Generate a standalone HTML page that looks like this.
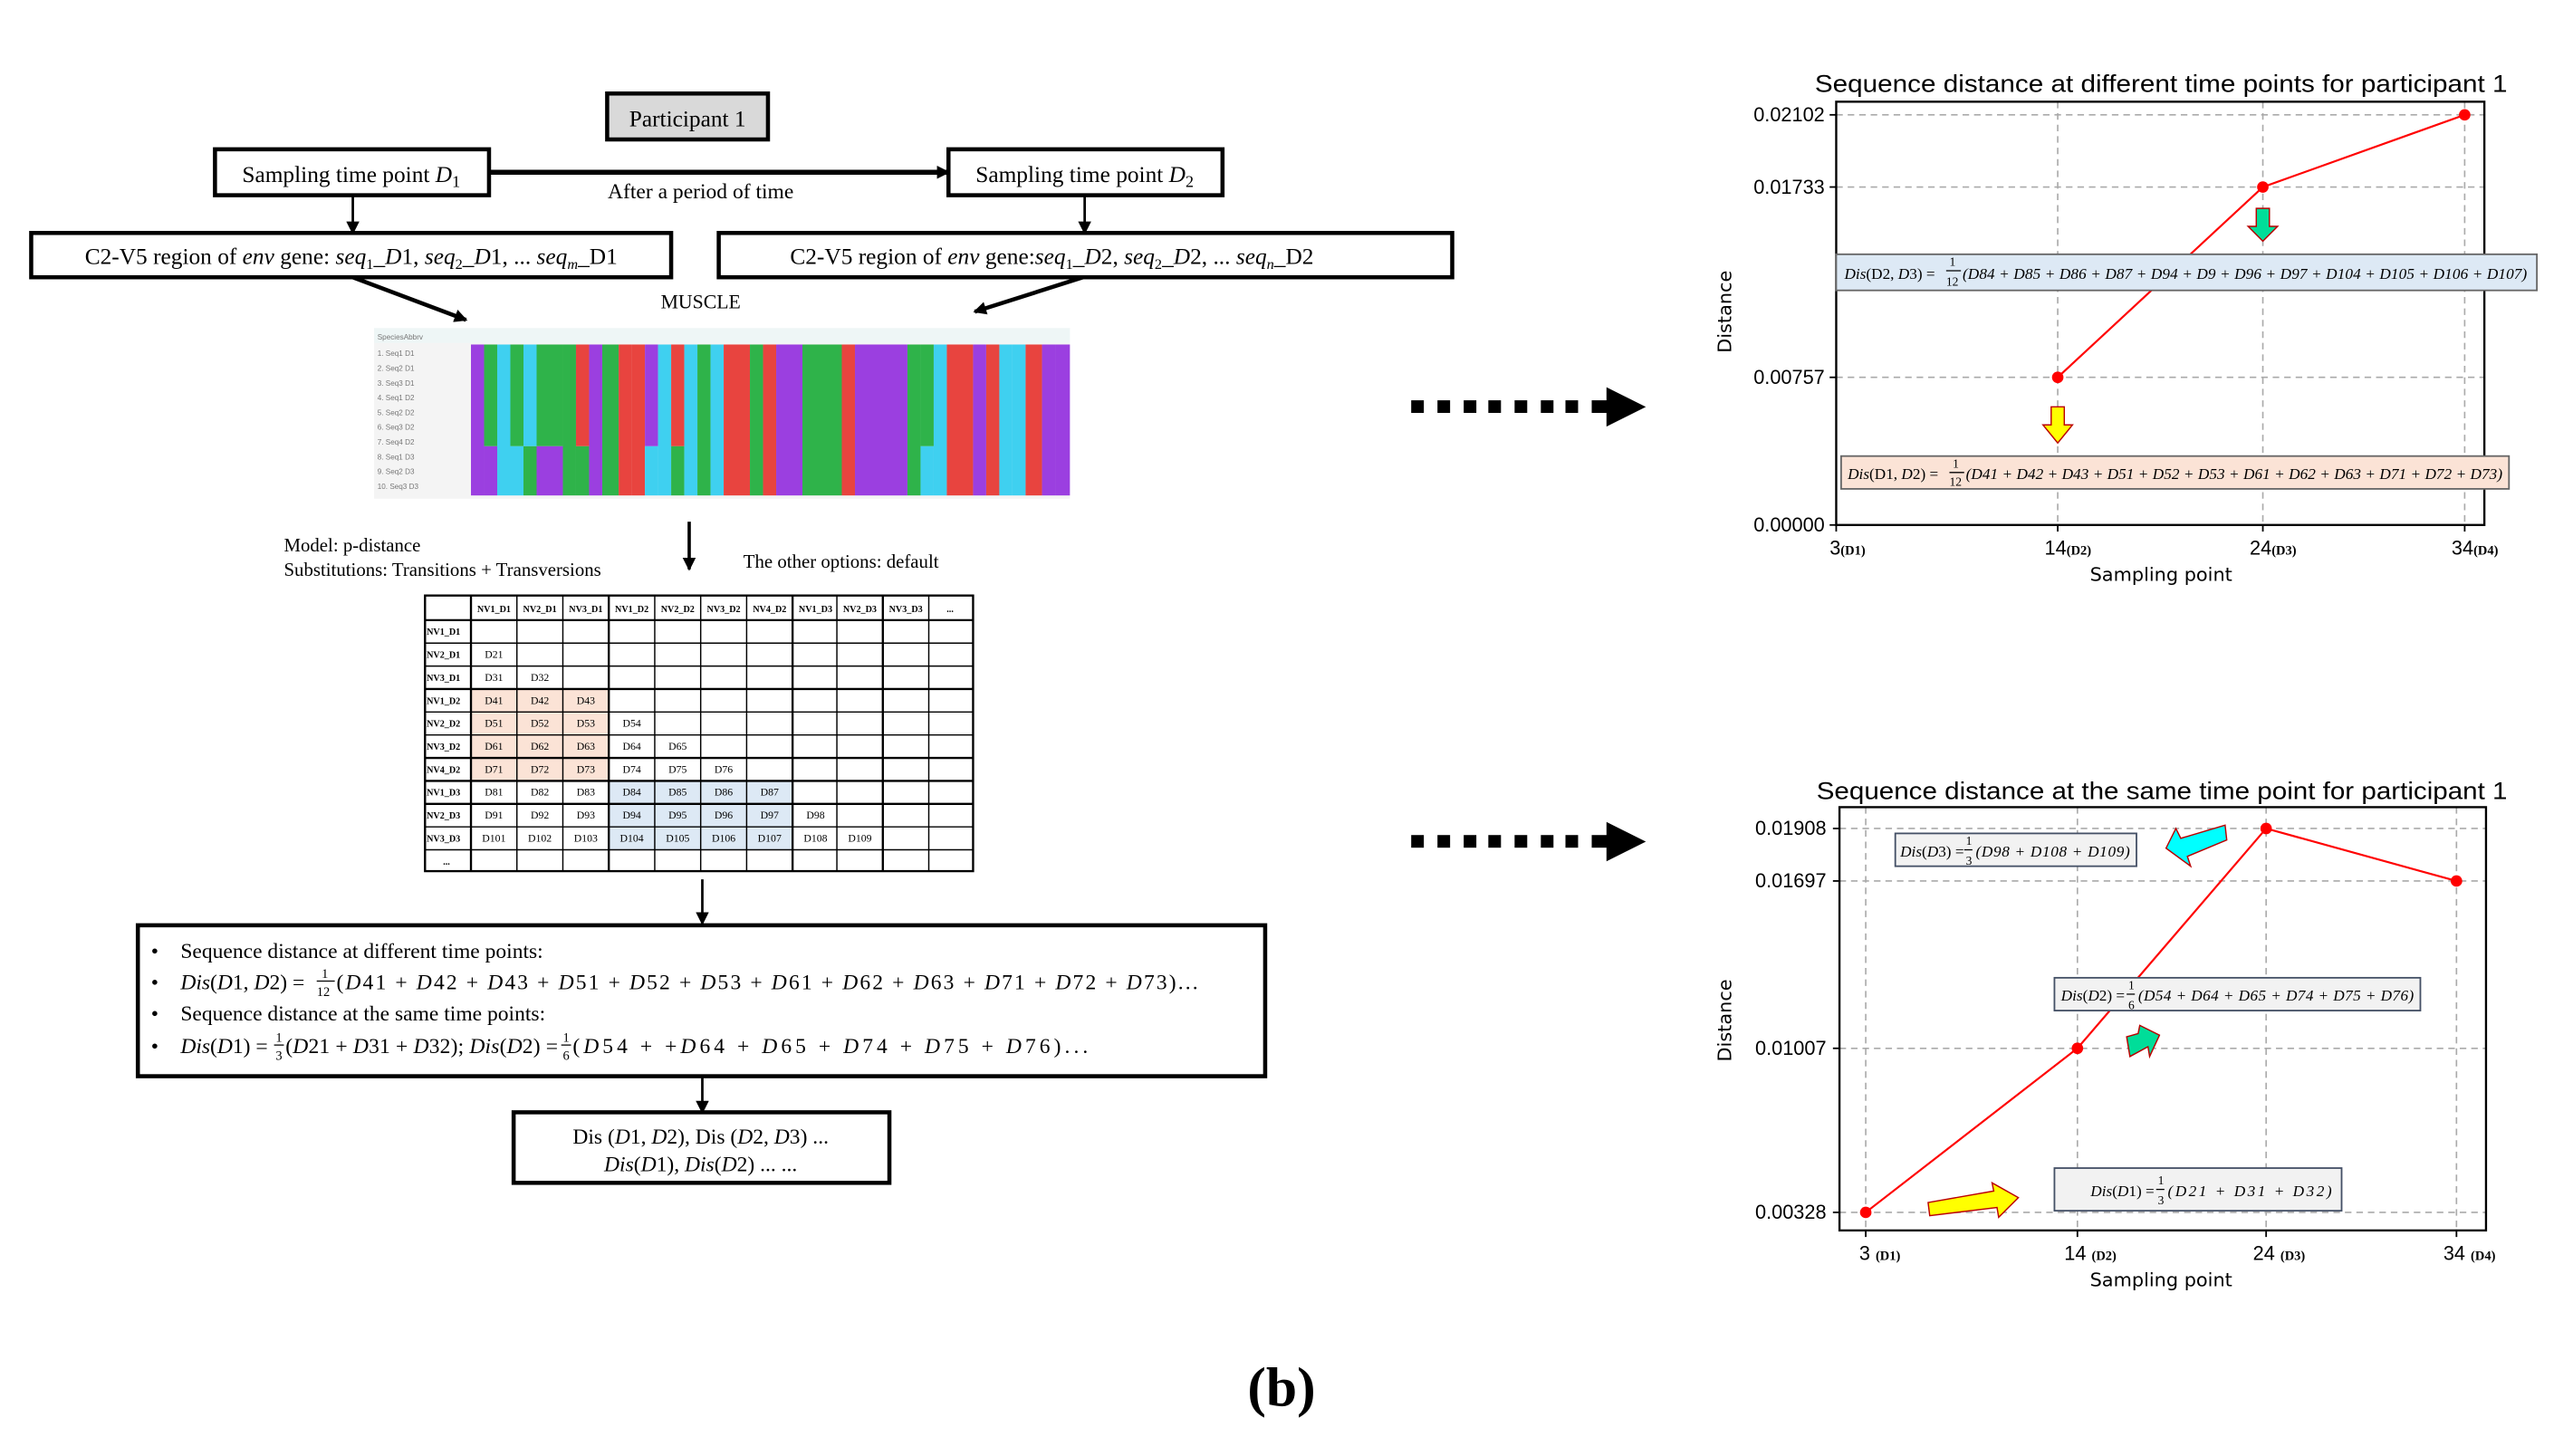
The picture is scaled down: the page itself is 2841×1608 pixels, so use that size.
<!DOCTYPE html>
<html><head><meta charset="utf-8"><style>
html,body{margin:0;padding:0;background:#fff;}
svg{display:block;}
.s{font-family:"Liberation Serif",serif;}
.a{font-family:"DejaVu Sans","Liberation Sans",sans-serif;}
.n{font-family:"Liberation Sans",sans-serif;}
</style></head><body>
<svg width="2841" height="1608" viewBox="0 0 1568 887.5" xmlns="http://www.w3.org/2000/svg">
<defs>
<marker id="ah" markerWidth="8" markerHeight="8" refX="7" refY="4" orient="auto" markerUnits="userSpaceOnUse"><path d="M0,0 L8,4 L0,8 z" fill="#000"/></marker>
</defs>
<rect width="1568" height="887.5" fill="#fff"/>

<!-- Left flowchart -->
<g class="s" fill="#000">
<rect x="370" y="57" width="98" height="28" fill="#d9d9d9" stroke="#000" stroke-width="2.5"/>
<text x="419" y="77" font-size="14" text-anchor="middle">Participant 1</text>

<rect x="131" y="91" width="167" height="28" fill="#fff" stroke="#000" stroke-width="2.5"/>
<text x="214" y="111" font-size="14" text-anchor="middle">Sampling time point <tspan font-style="italic">D</tspan><tspan font-size="10" dy="3">1</tspan></text>
<rect x="578" y="91" width="167" height="28" fill="#fff" stroke="#000" stroke-width="2.5"/>
<text x="661" y="111" font-size="14" text-anchor="middle">Sampling time point <tspan font-style="italic">D</tspan><tspan font-size="10" dy="3">2</tspan></text>
<line x1="298" y1="105" x2="578" y2="105" stroke="#000" stroke-width="3" marker-end="url(#ah)"/>
<text x="427" y="121" font-size="13" text-anchor="middle">After a period of time</text>
<line x1="215" y1="119" x2="215" y2="142" stroke="#000" stroke-width="1.5" marker-end="url(#ah)"/>
<line x1="661" y1="119" x2="661" y2="142" stroke="#000" stroke-width="1.5" marker-end="url(#ah)"/>

<rect x="19" y="142" width="390" height="27" fill="#fff" stroke="#000" stroke-width="2.5"/>
<text x="214" y="161" font-size="14" text-anchor="middle">C2-V5 region of <tspan font-style="italic">env</tspan> gene: <tspan font-style="italic">seq</tspan><tspan font-size="9" dy="3">1</tspan><tspan dy="-3">_<tspan font-style="italic">D</tspan>1, <tspan font-style="italic">seq</tspan></tspan><tspan font-size="9" dy="3">2</tspan><tspan dy="-3">_<tspan font-style="italic">D</tspan>1, ... <tspan font-style="italic">seq</tspan></tspan><tspan font-size="9" dy="3" font-style="italic">m</tspan><tspan dy="-3">_D1</tspan></text>
<rect x="438" y="142" width="447" height="27" fill="#fff" stroke="#000" stroke-width="2.5"/>
<text x="641" y="161" font-size="14" text-anchor="middle">C2-V5 region of <tspan font-style="italic">env</tspan> gene:<tspan font-style="italic">seq</tspan><tspan font-size="9" dy="3">1</tspan><tspan dy="-3">_<tspan font-style="italic">D</tspan>2, <tspan font-style="italic">seq</tspan></tspan><tspan font-size="9" dy="3">2</tspan><tspan dy="-3">_<tspan font-style="italic">D</tspan>2, ... <tspan font-style="italic">seq</tspan></tspan><tspan font-size="9" dy="3" font-style="italic">n</tspan><tspan dy="-3">_D2</tspan></text>
<line x1="215" y1="169" x2="284" y2="195" stroke="#000" stroke-width="2.5" marker-end="url(#ah)"/>
<line x1="660" y1="169" x2="594" y2="190" stroke="#000" stroke-width="2.5" marker-end="url(#ah)"/>
<text x="427" y="188" font-size="12" text-anchor="middle">MUSCLE</text>
</g>

<!-- Alignment image -->
<g>
<rect x="228" y="200" width="424" height="104" fill="#f4f4f4"/>
<rect x="228" y="200" width="424" height="9" fill="#eef6f6"/>
<g font-family="Liberation Sans" font-size="4.5" fill="#777">
<text x="230" y="207">SpeciesAbbrv</text>
<text x="230" y="217">1. Seq1 D1</text><text x="230" y="226">2. Seq2 D1</text><text x="230" y="235">3. Seq3 D1</text><text x="230" y="244">4. Seq1 D2</text><text x="230" y="253">5. Seq2 D2</text><text x="230" y="262">6. Seq3 D2</text><text x="230" y="271">7. Seq4 D2</text><text x="230" y="280">8. Seq1 D3</text><text x="230" y="289">9. Seq2 D3</text><text x="230" y="298">10. Seq3 D3</text>
</g>
<g>
<rect x="287" y="210" width="8" height="92" fill="#9b3fe0"/>
<rect x="295" y="210" width="8" height="62" fill="#2fb34a"/><rect x="295" y="272" width="8" height="30" fill="#9b3fe0"/>
<rect x="303" y="210" width="8" height="92" fill="#3fd0f0"/>
<rect x="311" y="210" width="8" height="62" fill="#2fb34a"/><rect x="311" y="272" width="8" height="30" fill="#3fd0f0"/>
<rect x="319" y="210" width="8" height="62" fill="#3fd0f0"/><rect x="319" y="272" width="8" height="30" fill="#2fb34a"/>
<rect x="327" y="210" width="16" height="62" fill="#2fb34a"/><rect x="327" y="272" width="16" height="30" fill="#9b3fe0"/>
<rect x="343" y="210" width="8" height="92" fill="#2fb34a"/>
<rect x="351" y="210" width="8" height="62" fill="#e8443f"/><rect x="351" y="272" width="8" height="30" fill="#2fb34a"/>
<rect x="359" y="210" width="8" height="92" fill="#9b3fe0"/>
<rect x="367" y="210" width="10" height="92" fill="#2fb34a"/>
<rect x="377" y="210" width="8" height="92" fill="#e8443f"/>
<rect x="385" y="210" width="8" height="92" fill="#e8443f"/>
<rect x="393" y="210" width="8" height="62" fill="#9b3fe0"/><rect x="393" y="272" width="8" height="30" fill="#3fd0f0"/>
<rect x="401" y="210" width="8" height="92" fill="#3fd0f0"/>
<rect x="409" y="210" width="8" height="62" fill="#e8443f"/><rect x="409" y="272" width="8" height="30" fill="#2fb34a"/>
<rect x="417" y="210" width="8" height="92" fill="#3fd0f0"/>
<rect x="425" y="210" width="8" height="92" fill="#2fb34a"/>
<rect x="433" y="210" width="8" height="92" fill="#3fd0f0"/>
<rect x="441" y="210" width="16" height="92" fill="#e8443f"/>
<rect x="457" y="210" width="8" height="92" fill="#2fb34a"/>
<rect x="465" y="210" width="8" height="92" fill="#e8443f"/>
<rect x="473" y="210" width="16" height="92" fill="#9b3fe0"/>
<rect x="489" y="210" width="24" height="92" fill="#2fb34a"/>
<rect x="513" y="210" width="8" height="92" fill="#e8443f"/>
<rect x="521" y="210" width="32" height="92" fill="#9b3fe0"/>
<rect x="553" y="210" width="8" height="92" fill="#2fb34a"/>
<rect x="561" y="210" width="8" height="62" fill="#2fb34a"/><rect x="561" y="272" width="8" height="30" fill="#3fd0f0"/>
<rect x="569" y="210" width="8" height="92" fill="#3fd0f0"/>
<rect x="577" y="210" width="16" height="92" fill="#e8443f"/>
<rect x="593" y="210" width="8" height="92" fill="#9b3fe0"/>
<rect x="601" y="210" width="8" height="92" fill="#e8443f"/>
<rect x="609" y="210" width="8" height="92" fill="#3fd0f0"/>
<rect x="617" y="210" width="8" height="92" fill="#3fd0f0"/>
<rect x="625" y="210" width="10" height="92" fill="#e8443f"/>
<rect x="635" y="210" width="8" height="92" fill="#9b3fe0"/>
<rect x="643" y="210" width="9" height="92" fill="#9b3fe0"/>
</g>
</g>

<g class="s" fill="#000">
<line x1="420" y1="318" x2="420" y2="347" stroke="#000" stroke-width="2" marker-end="url(#ah)"/>
<text x="173" y="336" font-size="11.5">Model: p-distance</text>
<text x="173" y="351" font-size="11.5">Substitutions: Transitions + Transversions</text>
<text x="453" y="346" font-size="11.5">The other options: default</text>
</g>

<!-- Table -->
<g class="s" font-size="6.5">
<rect x="287" y="420" width="84" height="56" fill="#fbe3d6"/>
<rect x="371" y="476" width="112" height="42" fill="#dde9f5"/>
<g stroke="#000" stroke-width="0.8" fill="none">
<rect x="259" y="363" width="334" height="168" stroke-width="1.3"/>
<line x1="287" y1="363" x2="287" y2="531" stroke-width="1.3"/>
<line x1="315" y1="363" x2="315" y2="531"/><line x1="343" y1="363" x2="343" y2="531"/><line x1="371" y1="363" x2="371" y2="531" stroke-width="1.3"/><line x1="399" y1="363" x2="399" y2="531"/><line x1="427" y1="363" x2="427" y2="531"/><line x1="455" y1="363" x2="455" y2="531"/><line x1="483" y1="363" x2="483" y2="531" stroke-width="1.3"/><line x1="510" y1="363" x2="510" y2="531"/><line x1="538" y1="363" x2="538" y2="531" stroke-width="1.3"/><line x1="566" y1="363" x2="566" y2="531"/>
<line x1="259" y1="378" x2="593" y2="378" stroke-width="1.3"/><line x1="259" y1="392" x2="593" y2="392"/><line x1="259" y1="406" x2="593" y2="406"/><line x1="259" y1="420" x2="593" y2="420" stroke-width="1.3"/><line x1="259" y1="434" x2="593" y2="434"/><line x1="259" y1="448" x2="593" y2="448"/><line x1="259" y1="462" x2="593" y2="462" stroke-width="1.3"/><line x1="259" y1="476" x2="593" y2="476" stroke-width="1.3"/><line x1="259" y1="490" x2="593" y2="490" stroke-width="1.3"/><line x1="259" y1="504" x2="593" y2="504"/><line x1="259" y1="518" x2="593" y2="518"/>
</g>
<g font-weight="bold" font-size="5.6" text-anchor="middle">
<text x="301" y="373">NV1_D1</text><text x="329" y="373">NV2_D1</text><text x="357" y="373">NV3_D1</text><text x="385" y="373">NV1_D2</text><text x="413" y="373">NV2_D2</text><text x="441" y="373">NV3_D2</text><text x="469" y="373">NV4_D2</text><text x="497" y="373">NV1_D3</text><text x="524" y="373">NV2_D3</text><text x="552" y="373">NV3_D3</text><text x="579" y="373">...</text>
</g>
<g font-weight="bold" font-size="5.6">
<text x="260" y="387">NV1_D1</text><text x="260" y="401">NV2_D1</text><text x="260" y="415">NV3_D1</text><text x="260" y="429">NV1_D2</text><text x="260" y="443">NV2_D2</text><text x="260" y="457">NV3_D2</text><text x="260" y="471">NV4_D2</text><text x="260" y="485">NV1_D3</text><text x="260" y="499">NV2_D3</text><text x="260" y="513">NV3_D3</text><text x="270" y="527">...</text>
</g>
<g text-anchor="middle">
<text x="301" y="401">D21</text>
<text x="301" y="415">D31</text><text x="329" y="415">D32</text>
<text x="301" y="429">D41</text><text x="329" y="429">D42</text><text x="357" y="429">D43</text>
<text x="301" y="443">D51</text><text x="329" y="443">D52</text><text x="357" y="443">D53</text><text x="385" y="443">D54</text>
<text x="301" y="457">D61</text><text x="329" y="457">D62</text><text x="357" y="457">D63</text><text x="385" y="457">D64</text><text x="413" y="457">D65</text>
<text x="301" y="471">D71</text><text x="329" y="471">D72</text><text x="357" y="471">D73</text><text x="385" y="471">D74</text><text x="413" y="471">D75</text><text x="441" y="471">D76</text>
<text x="301" y="485">D81</text><text x="329" y="485">D82</text><text x="357" y="485">D83</text><text x="385" y="485">D84</text><text x="413" y="485">D85</text><text x="441" y="485">D86</text><text x="469" y="485">D87</text>
<text x="301" y="499">D91</text><text x="329" y="499">D92</text><text x="357" y="499">D93</text><text x="385" y="499">D94</text><text x="413" y="499">D95</text><text x="441" y="499">D96</text><text x="469" y="499">D97</text><text x="497" y="499">D98</text>
<text x="301" y="513">D101</text><text x="329" y="513">D102</text><text x="357" y="513">D103</text><text x="385" y="513">D104</text><text x="413" y="513">D105</text><text x="441" y="513">D106</text><text x="469" y="513">D107</text><text x="497" y="513">D108</text><text x="524" y="513">D109</text>
</g>
</g>

<g class="s" fill="#000">
<line x1="428" y1="536" x2="428" y2="563" stroke="#000" stroke-width="1.5" marker-end="url(#ah)"/>
<rect x="84" y="564" width="687" height="92" fill="#fff" stroke="#000" stroke-width="2.5"/>
<g font-size="13">
<text x="92" y="584">•</text><text x="110" y="584">Sequence distance at different time points:</text>
<text x="92" y="603">•</text><text x="110" y="603"><tspan font-style="italic">Dis</tspan>(<tspan font-style="italic">D</tspan>1, <tspan font-style="italic">D</tspan>2) = </text>
<text x="196" y="596" font-size="8">1</text><line x1="193" y1="598" x2="204" y2="598" stroke="#000" stroke-width="0.7"/><text x="193" y="607" font-size="8">12</text>
<text x="205" y="603" textLength="525" lengthAdjust="spacing">(<tspan font-style="italic">D</tspan>41 + <tspan font-style="italic">D</tspan>42 + <tspan font-style="italic">D</tspan>43 + <tspan font-style="italic">D</tspan>51 + <tspan font-style="italic">D</tspan>52 + <tspan font-style="italic">D</tspan>53 + <tspan font-style="italic">D</tspan>61 + <tspan font-style="italic">D</tspan>62 + <tspan font-style="italic">D</tspan>63 + <tspan font-style="italic">D</tspan>71 + <tspan font-style="italic">D</tspan>72 + <tspan font-style="italic">D</tspan>73)...</text>
<text x="92" y="622">•</text><text x="110" y="622">Sequence distance at the same time points:</text>
<text x="92" y="642">•</text><text x="110" y="642"><tspan font-style="italic">Dis</tspan>(<tspan font-style="italic">D</tspan>1) = </text>
<text x="168" y="635" font-size="8">1</text><line x1="167" y1="637" x2="173" y2="637" stroke="#000" stroke-width="0.7"/><text x="168" y="646" font-size="8">3</text>
<text x="174" y="642" textLength="166" lengthAdjust="spacing">(<tspan font-style="italic">D</tspan>21 + <tspan font-style="italic">D</tspan>31 + <tspan font-style="italic">D</tspan>32); <tspan font-style="italic">Dis</tspan>(<tspan font-style="italic">D</tspan>2) = </text>
<text x="343" y="635" font-size="8">1</text><line x1="342" y1="637" x2="348" y2="637" stroke="#000" stroke-width="0.7"/><text x="343" y="646" font-size="8">6</text>
<text x="349" y="642" textLength="314" lengthAdjust="spacing">(<tspan font-style="italic">D</tspan>54 + +<tspan font-style="italic">D</tspan>64 + <tspan font-style="italic">D</tspan>65 + <tspan font-style="italic">D</tspan>74 + <tspan font-style="italic">D</tspan>75 + <tspan font-style="italic">D</tspan>76)...</text>
</g>
<line x1="428" y1="657" x2="428" y2="678" stroke="#000" stroke-width="1.5" marker-end="url(#ah)"/>
<rect x="313" y="678" width="229" height="43" fill="#fff" stroke="#000" stroke-width="2.5"/>
<text x="427" y="697" font-size="13" text-anchor="middle">Dis (<tspan font-style="italic">D</tspan>1, <tspan font-style="italic">D</tspan>2), Dis (<tspan font-style="italic">D</tspan>2, <tspan font-style="italic">D</tspan>3) ...</text>
<text x="427" y="714" font-size="13" text-anchor="middle"><tspan font-style="italic">Dis</tspan>(<tspan font-style="italic">D</tspan>1), <tspan font-style="italic">Dis</tspan>(<tspan font-style="italic">D</tspan>2) ... ...</text>
</g>

<!-- dotted arrows -->
<g fill="#000">
<rect x="860" y="244" width="7.7" height="7.7"/><rect x="876" y="244" width="7.7" height="7.7"/><rect x="892" y="244" width="7.7" height="7.7"/><rect x="907" y="244" width="7.7" height="7.7"/><rect x="923" y="244" width="7.7" height="7.7"/><rect x="939" y="244" width="7.7" height="7.7"/><rect x="954" y="244" width="7.7" height="7.7"/><rect x="970" y="244" width="10" height="7.7"/>
<path d="M979,236 L1003,248 L979,260 z"/>
<rect x="860" y="509" width="7.7" height="7.7"/><rect x="876" y="509" width="7.7" height="7.7"/><rect x="892" y="509" width="7.7" height="7.7"/><rect x="907" y="509" width="7.7" height="7.7"/><rect x="923" y="509" width="7.7" height="7.7"/><rect x="939" y="509" width="7.7" height="7.7"/><rect x="954" y="509" width="7.7" height="7.7"/><rect x="970" y="509" width="10" height="7.7"/>
<path d="M979,501 L1003,513 L979,525 z"/>
</g>

<!-- Chart 1 -->
<g>
<g stroke="#aaa" stroke-width="0.9" stroke-dasharray="4,3" fill="none">
<line x1="1119" y1="70" x2="1514" y2="70"/><line x1="1119" y1="114" x2="1514" y2="114"/><line x1="1119" y1="230" x2="1514" y2="230"/>
<line x1="1254" y1="62" x2="1254" y2="320"/><line x1="1379" y1="62" x2="1379" y2="320"/><line x1="1502" y1="62" x2="1502" y2="320"/>
</g>
<rect x="1119" y="62" width="395" height="258" fill="none" stroke="#000" stroke-width="1.3"/>
<g stroke="#000" stroke-width="1"><line x1="1115" y1="70" x2="1119" y2="70"/><line x1="1115" y1="114" x2="1119" y2="114"/><line x1="1115" y1="230" x2="1119" y2="230"/><line x1="1115" y1="320" x2="1119" y2="320"/>
<line x1="1119" y1="320" x2="1119" y2="324"/><line x1="1254" y1="320" x2="1254" y2="324"/><line x1="1379" y1="320" x2="1379" y2="324"/><line x1="1502" y1="320" x2="1502" y2="324"/></g>
<polyline points="1254,230 1379,114 1502,70" fill="none" stroke="#f00" stroke-width="1.2"/>
<circle cx="1254" cy="230" r="3.5" fill="#f00"/><circle cx="1379" cy="114" r="3.5" fill="#f00"/><circle cx="1502" cy="70" r="3.5" fill="#f00"/>
<text x="1106" y="56" class="n" font-size="15" textLength="422" lengthAdjust="spacingAndGlyphs">Sequence distance at different time points for participant 1</text>
<g class="n" font-size="12" text-anchor="end"><text x="1112" y="74">0.02102</text><text x="1112" y="118">0.01733</text><text x="1112" y="234">0.00757</text><text x="1112" y="324">0.00000</text></g>
<g class="n" font-size="12"><text x="1115" y="338">3<tspan class="s" font-size="8" font-weight="bold">(D1)</tspan></text><text x="1246" y="338">14<tspan class="s" font-size="8" font-weight="bold">(D2)</tspan></text><text x="1371" y="338">24<tspan class="s" font-size="8" font-weight="bold">(D3)</tspan></text><text x="1494" y="338">34<tspan class="s" font-size="8" font-weight="bold">(D4)</tspan></text></g>
<text x="1317" y="354" class="a" font-size="11.5" text-anchor="middle">Sampling point</text>
<text transform="translate(1055,190) rotate(-90)" class="a" font-size="11.5" text-anchor="middle">Distance</text>
<path d="M1375,127 L1383,127 L1383,138 L1388,138 L1379,147 L1370,138 L1375,138 z" fill="#00dd99" stroke="#b00" stroke-width="0.8"/>
<path d="M1250,248 L1258,248 L1258,259 L1263,259 L1254,270 L1245,259 L1250,259 z" fill="#ffff00" stroke="#b00" stroke-width="0.8"/>
<rect x="1119" y="155" width="427" height="22" fill="#dde9f5" stroke="#666" stroke-width="1"/>
<g class="s" font-size="9.5"><text x="1124" y="170"><tspan font-style="italic">Dis</tspan>(D2, <tspan font-style="italic">D</tspan>3) = </text>
<text x="1188" y="162" font-size="7.5">1</text><line x1="1186" y1="165" x2="1195" y2="165" stroke="#000" stroke-width="0.7"/><text x="1186" y="174" font-size="7.5">12</text>
<text x="1196" y="170" font-style="italic" textLength="344" lengthAdjust="spacing">(D84 + D85 + D86 + D87 + D94 + D9 + D96 + D97 + D104 + D105 + D106 + D107)</text></g>
<rect x="1122" y="278" width="407" height="20" fill="#fbe3d6" stroke="#666" stroke-width="1"/>
<g class="s" font-size="9.5"><text x="1126" y="292"><tspan font-style="italic">Dis</tspan>(D1, <tspan font-style="italic">D</tspan>2) = </text>
<text x="1190" y="285" font-size="7.5">1</text><line x1="1188" y1="288" x2="1197" y2="288" stroke="#000" stroke-width="0.7"/><text x="1188" y="296" font-size="7.5">12</text>
<text x="1198" y="292" font-style="italic" textLength="327" lengthAdjust="spacing">(D41 + D42 + D43 + D51 + D52 + D53 + D61 + D62 + D63 + D71 + D72 + D73)</text></g>
</g>

<!-- Chart 2 -->
<g>
<g stroke="#aaa" stroke-width="0.9" stroke-dasharray="4,3" fill="none">
<line x1="1121" y1="505" x2="1515" y2="505"/><line x1="1121" y1="537" x2="1515" y2="537"/><line x1="1121" y1="639" x2="1515" y2="639"/><line x1="1121" y1="739" x2="1515" y2="739"/>
<line x1="1137" y1="492" x2="1137" y2="750"/><line x1="1266" y1="492" x2="1266" y2="750"/><line x1="1381" y1="492" x2="1381" y2="750"/><line x1="1497" y1="492" x2="1497" y2="750"/>
</g>
<rect x="1121" y="492" width="394" height="258" fill="none" stroke="#000" stroke-width="1.3"/>
<g stroke="#000" stroke-width="1"><line x1="1117" y1="505" x2="1121" y2="505"/><line x1="1117" y1="537" x2="1121" y2="537"/><line x1="1117" y1="639" x2="1121" y2="639"/><line x1="1117" y1="739" x2="1121" y2="739"/>
<line x1="1137" y1="750" x2="1137" y2="754"/><line x1="1266" y1="750" x2="1266" y2="754"/><line x1="1381" y1="750" x2="1381" y2="754"/><line x1="1497" y1="750" x2="1497" y2="754"/></g>
<polyline points="1137,739 1266,639 1381,505 1497,537" fill="none" stroke="#f00" stroke-width="1.2"/>
<circle cx="1137" cy="739" r="3.5" fill="#f00"/><circle cx="1266" cy="639" r="3.5" fill="#f00"/><circle cx="1381" cy="505" r="3.5" fill="#f00"/><circle cx="1497" cy="537" r="3.5" fill="#f00"/>
<text x="1107" y="487" class="n" font-size="15" textLength="421" lengthAdjust="spacingAndGlyphs">Sequence distance at the same time point for participant 1</text>
<g class="n" font-size="12" text-anchor="end"><text x="1113" y="509">0.01908</text><text x="1113" y="541">0.01697</text><text x="1113" y="643">0.01007</text><text x="1113" y="743">0.00328</text></g>
<g class="n" font-size="12"><text x="1133" y="768">3 <tspan class="s" font-size="8" font-weight="bold">(D1)</tspan></text><text x="1258" y="768">14 <tspan class="s" font-size="8" font-weight="bold">(D2)</tspan></text><text x="1373" y="768">24 <tspan class="s" font-size="8" font-weight="bold">(D3)</tspan></text><text x="1489" y="768">34 <tspan class="s" font-size="8" font-weight="bold">(D4)</tspan></text></g>
<text x="1317" y="784" class="a" font-size="11.5" text-anchor="middle">Sampling point</text>
<text transform="translate(1055,622) rotate(-90)" class="a" font-size="11.5" text-anchor="middle">Distance</text>
<path d="M1356,503 L1357,512 L1333,522 L1335,528 L1320,517 L1326,505 L1329,511 z" fill="#00ffff" stroke="#b00" stroke-width="0.8"/>
<path d="M1298,644 L1296,632 L1303,630 L1304,625 L1316,631 L1310,644 L1309,638 z" fill="#00dd99" stroke="#b00" stroke-width="0.8"/>
<path d="M1176,741 L1175,733 L1215,726 L1214,721 L1230,730 L1218,742 L1217,736 z" fill="#ffff00" stroke="#b00" stroke-width="0.8"/>
<rect x="1155" y="508" width="147" height="20" fill="#f2f2f2" stroke="#445066" stroke-width="1"/>
<g class="s" font-size="9.5"><text x="1158" y="522"><tspan font-style="italic">Dis</tspan>(<tspan font-style="italic">D</tspan>3) = </text>
<text x="1198" y="515" font-size="7.5">1</text><line x1="1197" y1="518" x2="1202" y2="518" stroke="#000" stroke-width="0.7"/><text x="1198" y="527" font-size="7.5">3</text>
<text x="1204" y="522" font-style="italic" textLength="94" lengthAdjust="spacing">(D98 + D108 + D109)</text></g>
<rect x="1252" y="596" width="223" height="20" fill="#f2f2f2" stroke="#445066" stroke-width="1"/>
<g class="s" font-size="9.5"><text x="1256" y="610"><tspan font-style="italic">Dis</tspan>(<tspan font-style="italic">D</tspan>2) = </text>
<text x="1297" y="603" font-size="7.5">1</text><line x1="1296" y1="606" x2="1301" y2="606" stroke="#000" stroke-width="0.7"/><text x="1297" y="615" font-size="7.5">6</text>
<text x="1303" y="610" font-style="italic" textLength="168" lengthAdjust="spacing">(D54 + D64 + D65 + D74 + D75 + D76)</text></g>
<rect x="1252" y="712" width="175" height="26" fill="#f2f2f2" stroke="#445066" stroke-width="1"/>
<g class="s" font-size="9.5"><text x="1274" y="729"><tspan font-style="italic">Dis</tspan>(<tspan font-style="italic">D</tspan>1) = </text>
<text x="1315" y="722" font-size="7.5">1</text><line x1="1314" y1="725" x2="1319" y2="725" stroke="#000" stroke-width="0.7"/><text x="1315" y="734" font-size="7.5">3</text>
<text x="1321" y="729" font-style="italic" textLength="100" lengthAdjust="spacing">(D21 + D31 + D32)</text></g>
</g>

<text x="781" y="857" class="s" font-size="34" font-weight="bold" text-anchor="middle">(b)</text>
</svg>
</body></html>
